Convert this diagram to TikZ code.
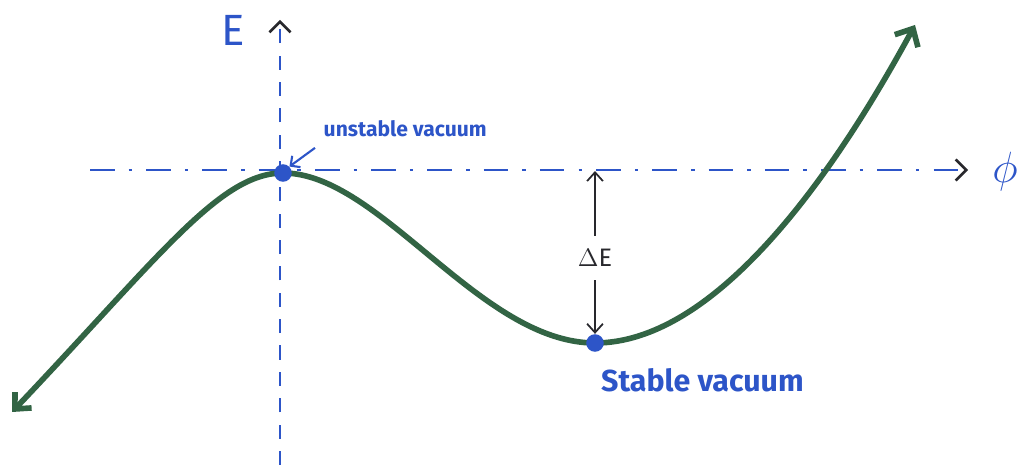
\documentclass[tikz,border=0pt]{standalone}
\usepackage{amsmath,amssymb}
\usepackage{fontspec}
\setsansfont{Fira Sans}
\usetikzlibrary{arrows.meta,positioning,calc}
\definecolor{penblue}{RGB}{45,85,200}
\definecolor{pengreen}{RGB}{50,100,68}
\definecolor{penblack}{RGB}{40,40,45}
\begin{document}
\begin{tikzpicture}[
    axis/.style={penblue, line width=1.5pt},
    potential/.style={pengreen, line width=3.2pt, {Straight Barb[length=7pt,width=13pt]}-{Straight Barb[length=8pt,width=15pt]}},
    vacdot/.style={circle, fill=penblue, inner sep=0pt, minimum size=10pt},
    label/.style={penblue, font=\sffamily\bfseries\large},
    gap/.style={penblack, line width=1pt, -{Straight Barb[length=5pt,width=9pt]}},
]
\useasboundingbox (0,0) rectangle (20.5,9.42);
% Axes
\draw[axis, dash pattern=on 8pt off 7pt, -{Straight Barb[length=6pt,width=12pt,color=penblack]}] (5.6,0.12) -- (5.6,9.02);
\draw[axis, dash pattern=on 14pt off 8pt on 2pt off 8pt, -{Straight Barb[length=6pt,width=12pt,color=penblack]}] (1.8,6.02) -- (19.36,6.02);
\node[label, font=\sffamily\Huge] (elabel) at (4.66,8.82) {E};
\node[penblue, font=\Huge] (philabel) at (20.1,5.98) {$\phi$};

% Potential curve
\draw[potential] (0.24,1.18) .. controls (3.2,4.3) and (4.4,5.96) .. (5.66,5.96)
    .. controls (7.6,5.96) and (9.6,2.56) .. (11.9,2.56)
    .. controls (14.2,2.56) and (16.5,5.6) .. (18.3,8.92);

% Vacua
\node[vacdot] (unstable) at (5.66,5.96) {};
\node[vacdot] (stable) at (11.9,2.56) {};
\node[label, anchor=west] (unstabletext) at (6.35,6.85) {unstable vacuum};
\draw[penblue, line width=1.2pt, -{Straight Barb[length=4pt,width=8pt]}] (unstabletext.south west) ++(-0.05,-0.1) coordinate (ua) -- (unstable.north east);
\node[label, font=\sffamily\bfseries\LARGE, anchor=west] (stabletext) at (11.9,1.82) {Stable vacuum};

% Energy gap
\node[penblack, font=\sffamily\Large] (gaplabel) at (11.9,4.26) {$\Delta$E};
\coordinate (axistop) at (11.9,6.0);
\draw[gap] (gaplabel.north) ++(0,0.15) -- (axistop);
\draw[gap] (gaplabel.south) ++(0,-0.15) -- (stable.north);
\end{tikzpicture}
\end{document}
